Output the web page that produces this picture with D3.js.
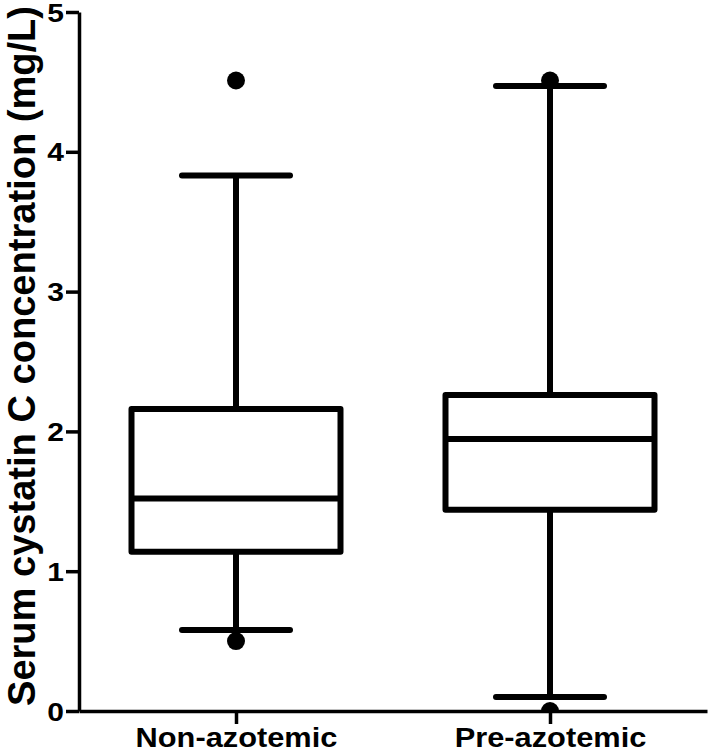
<!DOCTYPE html>
<html>
<head>
<meta charset="utf-8">
<script src="https://cdn.jsdelivr.net/npm/d3@7"></script>
<style>
  body { margin: 0; background: #fff; }
  text { font-family: "Liberation Sans", Arial, sans-serif; font-weight: bold; fill: #000; }
</style>
</head>
<body>
<div id="chart"></div>
<script>
// data
var groups = ["Non-azotemic", "Pre-azotemic"];
var whiskerLow = [0.58, 0.10];
var q1 = [1.14, 1.44];
var median = [1.52, 1.945];
var q3 = [2.16, 2.26];
var whiskerHigh = [3.83, 4.47];
var outliers = [[4.51, 0.50], [4.51, 0.0]];
var yTicks = [0, 1, 2, 3, 4, 5];

var width = 709, height = 754;
var mLeft = 79, mRight = 707, mTop = 12, mBottom = 711;

var svg = d3.select("#chart").append("svg")
    .attr("width", width)
    .attr("height", height);

var y = d3.scaleLinear().domain([0, 5]).range([mBottom, mTop]);
var x = d3.scalePoint().domain(groups).range([mLeft, mRight]).padding(0.5);

var boxW = 209, capW = 108, lw = 6;

// clip so points at 0 are cut by the axis
svg.append("clipPath").attr("id", "plotclip")
  .append("rect").attr("x", mLeft).attr("y", 0).attr("width", mRight - mLeft).attr("height", mBottom);

var boxes = groups.map(function(g, i) {
  return { g: g, lo: whiskerLow[i], q1: q1[i], med: median[i], q3: q3[i], hi: whiskerHigh[i], out: outliers[i] };
});

var plot = svg.append("g").attr("clip-path", "url(#plotclip)");

var grp = plot.selectAll("g.box").data(boxes).enter().append("g").attr("class", "box");

// whiskers
grp.append("line")
    .attr("x1", d => x(d.g)).attr("x2", d => x(d.g))
    .attr("y1", d => y(d.hi)).attr("y2", d => y(d.q3))
    .attr("stroke", "#000").attr("stroke-width", lw);
grp.append("line")
    .attr("x1", d => x(d.g)).attr("x2", d => x(d.g))
    .attr("y1", d => y(d.q1)).attr("y2", d => y(d.lo))
    .attr("stroke", "#000").attr("stroke-width", lw);
// caps
grp.selectAll("line.cap").data(d => [[d.g, d.hi], [d.g, d.lo]]).enter().append("line")
    .attr("class", "cap")
    .attr("x1", d => x(d[0]) - capW / 2).attr("x2", d => x(d[0]) + capW / 2)
    .attr("y1", d => y(d[1])).attr("y2", d => y(d[1]))
    .attr("stroke", "#000").attr("stroke-width", lw).attr("stroke-linecap", "round");
// box
grp.append("rect")
    .attr("x", d => x(d.g) - boxW / 2).attr("width", boxW)
    .attr("y", d => y(d.q3)).attr("height", d => y(d.q1) - y(d.q3))
    .attr("fill", "none").attr("stroke", "#000").attr("stroke-width", lw)
    .attr("stroke-linejoin", "round");
grp.append("line")
    .attr("x1", d => x(d.g) - boxW / 2).attr("x2", d => x(d.g) + boxW / 2)
    .attr("y1", d => y(d.med)).attr("y2", d => y(d.med))
    .attr("stroke", "#000").attr("stroke-width", lw);
// outliers
grp.selectAll("circle").data(d => d.out.map(v => [d.g, v])).enter().append("circle")
    .attr("cx", d => x(d[0])).attr("cy", d => y(d[1])).attr("r", 9)
    .attr("fill", "#000");

// y axis
var yAxis = svg.append("g").attr("transform", "translate(" + mLeft + ",0)")
    .call(d3.axisLeft(y).tickValues(yTicks).tickSize(13).tickSizeOuter(0).tickFormat(d3.format("d")));
yAxis.select(".domain").attr("stroke-width", 3.5);
yAxis.selectAll(".tick line").attr("stroke-width", 3.5);
var sx = 1.2;
yAxis.selectAll(".tick text")
    .attr("x", -15 / sx).attr("dy", "0.36em")
    .attr("transform", "scale(" + sx + ",1)")
    .style("font-size", "25px");

// x axis
var xAxis = svg.append("g").attr("transform", "translate(0," + mBottom + ")")
    .call(d3.axisBottom(x).tickSize(13).tickSizeOuter(0));
xAxis.select(".domain").attr("stroke-width", 3.5);
xAxis.selectAll(".tick line").attr("stroke-width", 3.5);
xAxis.selectAll(".tick text")
    .attr("y", 36).attr("dy", 0)
    .style("font-size", "27px")
    .each(function() {
      var t = d3.select(this);
      t.attr("textLength", this.getComputedTextLength() * 1.14).attr("lengthAdjust", "spacingAndGlyphs");
    });
d3.selectAll(".domain").attr("stroke", "#000");
d3.selectAll(".tick line").attr("stroke", "#000");

// y title
svg.append("text")
    .attr("transform", "translate(35,356) rotate(-90)")
    .attr("text-anchor", "middle")
    .attr("textLength", 700)
    .attr("lengthAdjust", "spacingAndGlyphs")
    .style("font-size", "38px")
    .text("Serum cystatin C concentration (mg/L)");
</script>
</body>
</html>
